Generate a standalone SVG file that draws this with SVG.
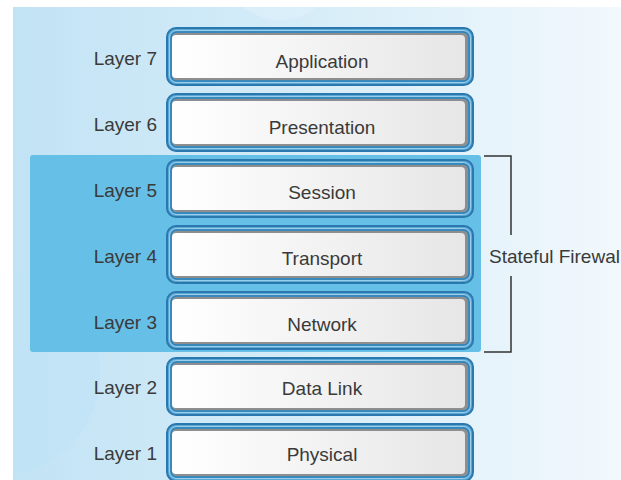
<svg xmlns="http://www.w3.org/2000/svg" width="621" height="480" viewBox="0 0 621 480">
  <defs>
    <linearGradient id="bg" x1="0" y1="0" x2="1" y2="0">
      <stop offset="0" stop-color="#c2e3f5"/>
      <stop offset="0.45" stop-color="#d4ecf8"/>
      <stop offset="1" stop-color="#f2f8fc"/>
    </linearGradient>
    <linearGradient id="face" x1="0" y1="0" x2="1" y2="0">
      <stop offset="0" stop-color="#ffffff"/>
      <stop offset="1" stop-color="#e6e6e6"/>
    </linearGradient>
    <clipPath id="panel">
      <rect x="13" y="7" width="608" height="473"/>
    </clipPath>
    <style>
      .outer { fill: #5aa8d6; stroke: #2a78ad; stroke-width: 2; }
      .ring { fill: none; stroke: #9ccde9; stroke-width: 1; }
      .ring2 { fill: none; stroke: #2f7fb4; stroke-width: 1.5; }
      .shadow { fill: #8e8e8e; }
      .face { fill: url(#face); }
      .lbl { font-family: "Liberation Sans", Arial, sans-serif; font-size: 19px; fill: #3a3a3a; }
      .name { font-family: "Liberation Sans", Arial, sans-serif; font-size: 19px; fill: #3a3a3a; text-anchor: middle; }
      .layer { font-family: "Liberation Sans", Arial, sans-serif; font-size: 19px; fill: #3a3a3a; text-anchor: end; }
      .bracket { fill: none; stroke: #333333; stroke-width: 1.5; }
    </style>
    <g id="box">
      <rect class="outer" x="167" y="0" width="306" height="57" rx="9"/>
      <rect class="ring" x="169.5" y="2.5" width="301" height="52" rx="7"/>
      <rect class="ring2" x="171" y="4" width="298" height="49" rx="6"/>
      <rect class="shadow" x="172" y="5" width="296" height="47" rx="5"/>
      <rect class="face" x="172" y="7" width="293" height="43" rx="4"/>
    </g>
  </defs>

  <rect x="13" y="7" width="608" height="473" fill="url(#bg)"/>
  <g clip-path="url(#panel)">
    <circle cx="-5" cy="372" r="105" fill="#bfe2f6" opacity="0.6"/>
    <circle cx="280" cy="-40" r="60" fill="#e2f2fb" opacity="0.5"/>
  </g>

  <g id="stateful-region">
    <rect x="30" y="155" width="451" height="197" rx="3" fill="#66bfe6"/>
  </g>

  <g id="layer7">
    <use href="#box" y="28"/>
    <text class="layer" x="157" y="65">Layer 7</text>
    <text class="name" x="322" y="68">Application</text>
  </g>
  <g id="layer6">
    <use href="#box" y="94"/>
    <text class="layer" x="157" y="131">Layer 6</text>
    <text class="name" x="322" y="134">Presentation</text>
  </g>
  <g id="layer5">
    <use href="#box" y="160"/>
    <text class="layer" x="157" y="197">Layer 5</text>
    <text class="name" x="322" y="199">Session</text>
  </g>
  <g id="layer4">
    <use href="#box" y="226"/>
    <text class="layer" x="157" y="263">Layer 4</text>
    <text class="name" x="322" y="265">Transport</text>
  </g>
  <g id="layer3">
    <use href="#box" y="292"/>
    <text class="layer" x="157" y="329">Layer 3</text>
    <text class="name" x="322" y="331">Network</text>
  </g>
  <g id="layer2">
    <use href="#box" y="358"/>
    <text class="layer" x="157" y="394">Layer 2</text>
    <text class="name" x="322" y="395">Data Link</text>
  </g>
  <g id="layer1">
    <use href="#box" y="424"/>
    <text class="layer" x="157" y="460">Layer 1</text>
    <text class="name" x="322" y="461">Physical</text>
  </g>

  <g id="connectors">
    <path class="bracket" d="M484 156 H511 V235"/>
    <path class="bracket" d="M511 276 V352 H484"/>
  </g>
  <g id="firewall-label">
    <text class="lbl" x="489" y="263">Stateful Firewal</text>
  </g>
</svg>
